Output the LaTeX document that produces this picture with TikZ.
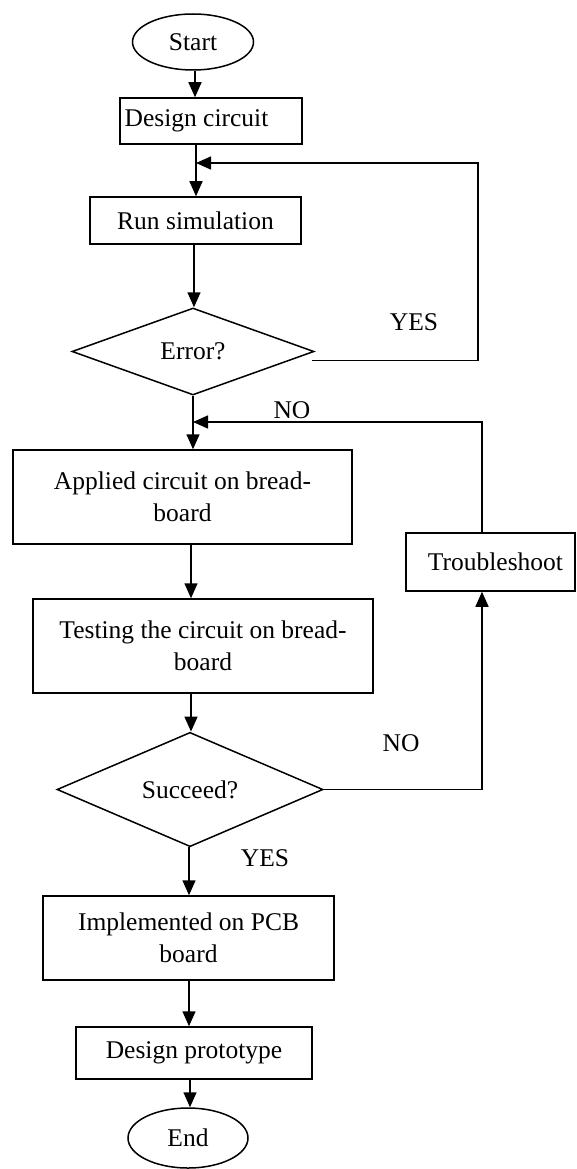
\documentclass[tikz,border=0pt]{standalone}
\usepackage{fontspec}
\setmainfont{Liberation Serif}
\usetikzlibrary{shapes.geometric,arrows.meta,calc}
\begin{document}
\begin{tikzpicture}[x=1pt,y=-1pt,
  every node/.style={font=\fontsize{25.5}{32}\selectfont},
  box/.style={draw, line width=1.5pt, rectangle, inner sep=0pt, align=center},
  term/.style={draw, line width=1.5pt, ellipse, inner sep=0pt},
  dec/.style={draw, line width=1.5pt, diamond, inner sep=0pt},
  arr/.style={line width=1.5pt, -{Triangle[length=15pt,width=13pt]}},
  lbl/.style={inner sep=0pt}]
\useasboundingbox (0,0) rectangle (576,1169);

% nodes
\node[term, minimum width=121pt, minimum height=56pt] (start) at (193,42) {Start};
\node[box, minimum width=182pt, minimum height=46pt] (des) at (211,121) {Design circuit\hspace*{29pt}};
\node[box, minimum width=211pt, minimum height=47pt] (run) at (195.5,220.5) {Run simulation};
\node[dec, minimum width=242pt, minimum height=87pt] (err) at (193,351.5) {Error?};
\node[lbl] (yes1) at (414,322) {YES};
\node[lbl] (no1) at (292,410) {NO};
\node[box, minimum width=339pt, minimum height=94pt] (app) at (182.5,497) {Applied circuit on bread-\\board};
\node[box, minimum width=169pt, minimum height=58pt] (trb) at (490.5,562) {\hspace*{10pt}Troubleshoot};
\node[box, minimum width=340pt, minimum height=94pt] (tst) at (203,646) {Testing the circuit on bread-\\board};
\node[dec, minimum width=266pt, minimum height=87pt] (suc) at (190,789.5) {Succeed?};
\node[lbl] (no2) at (401,743) {NO};
\node[lbl] (yes2) at (265,858) {YES};
\node[box, minimum width=291pt, minimum height=84pt] (imp) at (188.5,938) {Implemented on PCB\\board};
\node[box, minimum width=236pt, minimum height=52pt] (pro) at (194,1053) {Design prototype};
\node[term, minimum width=120pt, minimum height=60pt] (end) at (188,1138) {End};

% helper coordinates
\coordinate (x195) at (195,0);
\coordinate (x196) at (196,0);
\coordinate (x194) at (194,0);
\coordinate (x193) at (193,0);
\coordinate (x191) at (191,0);
\coordinate (x189) at (189,0);
\coordinate (x190) at (190,0);
\coordinate (r1) at (478,0);
\coordinate (r2) at (482,0);
\coordinate (j1) at (196,163);
\coordinate (j2) at (193,422);
\coordinate (eo) at ($(err.east)+(-3,9)$);

% connectors
\draw[arr] (start.south -| x195) -- (des.north -| x195);
\draw[arr] (des.south -| x196) -- (run.north -| x196);
\draw[arr] (run.south -| x194) -- (err.north -| x194);
\draw[arr] (eo) -| (r1 |- j1) -- (j1);
\draw[arr] (err.south -| x193) -- (app.north -| x193);
\draw[arr] (trb.north -| r2) |- (j2);
\draw[arr] (app.south -| x191) -- (tst.north -| x191);
\draw[arr] (tst.south -| x191) -- (suc.north -| x191);
\draw[arr] (suc.east) -| (trb.south -| r2);
\draw[arr] (suc.south -| x189) -- (imp.north -| x189);
\draw[arr] (imp.south -| x189) -- (pro.north -| x189);
\draw[arr] (pro.south -| x190) -- (end.north -| x190);
\end{tikzpicture}
\end{document}
